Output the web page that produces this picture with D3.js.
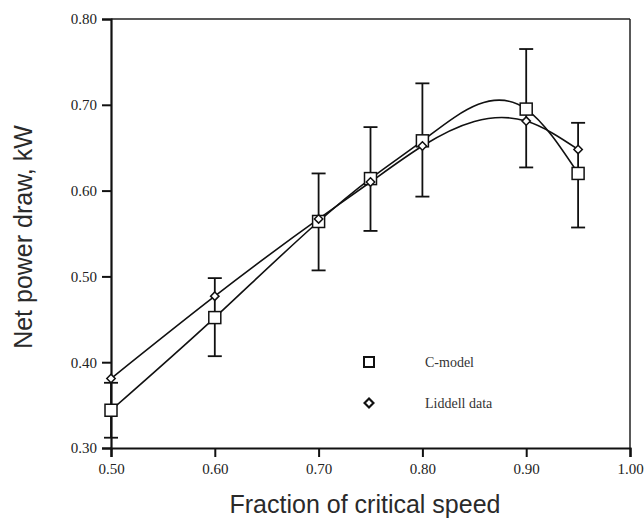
<!DOCTYPE html>
<html>
<head>
<meta charset="utf-8">
<script src="https://cdn.jsdelivr.net/npm/d3@7"></script>
<style>
  body { margin: 0; background: #fff; }
  svg { display: block; }
  .tick-label { font-family: "Liberation Serif", "DejaVu Serif", serif; font-size: 15px; fill: #222; }
  .axis-title { font-family: "Liberation Sans", Arial, sans-serif; font-size: 25px; fill: #2a2a2a; }
  .legend-text { font-family: "Liberation Serif", serif; font-size: 14px; fill: #333; }
</style>
</head>
<body>
<div id="chart"></div>
<script>
// fraction of critical speed
const speeds = [0.50, 0.60, 0.70, 0.75, 0.80, 0.90, 0.95];
// net power draw, kW
const cModel = [0.344, 0.452, 0.564, 0.614, 0.658, 0.695, 0.620];
const liddell = [0.381, 0.477, 0.567, 0.610, 0.652, 0.681, 0.648];
// error bars around the C-model points
const errLow = [0.312, 0.407, 0.507, 0.553, 0.593, 0.627, 0.557];
const errHigh = [0.376, 0.498, 0.620, 0.674, 0.725, 0.765, 0.679];

const xTicks = [0.50, 0.60, 0.70, 0.80, 0.90, 1.00];
const yTicks = [0.30, 0.40, 0.50, 0.60, 0.70, 0.80];
const seriesNames = ['C-model', 'Liddell data'];

const width = 644, height = 519;
const margin = { left: 111, right: 14, top: 19, bottom: 71 };

// natural cubic spline with x as the parameter (d3.curveNatural uses the point index)
function curveNaturalX(context) {
  let xs, ys;
  return {
    areaStart() {},
    areaEnd() {},
    lineStart() { xs = []; ys = []; },
    point(px, py) { xs.push(+px); ys.push(+py); },
    lineEnd() {
      const n = xs.length;
      if (!n) return;
      context.moveTo(xs[0], ys[0]);
      if (n < 3) {
        if (n === 2) context.lineTo(xs[1], ys[1]);
        return;
      }
      const h = [], s = [];
      for (let i = 0; i < n - 1; i++) {
        h.push(xs[i + 1] - xs[i]);
        s.push((ys[i + 1] - ys[i]) / h[i]);
      }
      // second derivatives, M[0] = M[n-1] = 0
      const M = new Array(n).fill(0);
      const cp = [], dp = [];
      for (let i = 1; i < n - 1; i++) {
        const a = h[i - 1], b = 2 * (h[i - 1] + h[i]), c = h[i];
        const d = 6 * (s[i] - s[i - 1]);
        const prevC = i > 1 ? cp[i - 1] : 0;
        const prevD = i > 1 ? dp[i - 1] : 0;
        const denom = b - a * prevC;
        cp[i] = c / denom;
        dp[i] = (d - a * prevD) / denom;
      }
      for (let i = n - 2; i >= 1; i--) {
        M[i] = dp[i] - cp[i] * M[i + 1];
      }
      const m = [];
      for (let i = 0; i < n - 1; i++) m.push(s[i] - h[i] * (2 * M[i] + M[i + 1]) / 6);
      m.push(s[n - 2] + h[n - 2] * (M[n - 2] + 2 * M[n - 1]) / 6);
      for (let i = 0; i < n - 1; i++) {
        context.bezierCurveTo(
          xs[i] + h[i] / 3, ys[i] + m[i] * h[i] / 3,
          xs[i + 1] - h[i] / 3, ys[i + 1] - m[i + 1] * h[i] / 3,
          xs[i + 1], ys[i + 1]);
      }
    }
  };
}

const svg = d3.select('#chart').append('svg')
  .attr('width', width)
  .attr('height', height);

const x = d3.scaleLinear().domain([0.5, 1.0]).range([margin.left, width - margin.right]);
const y = d3.scaleLinear().domain([0.3, 0.8]).range([height - margin.bottom, margin.top]);

// frame: top and right thinner
svg.append('line')
  .attr('x1', x(0.5)).attr('x2', x(1.0))
  .attr('y1', y(0.8)).attr('y2', y(0.8))
  .attr('stroke', '#222').attr('stroke-width', 1.5);
svg.append('line')
  .attr('x1', x(1.0)).attr('x2', x(1.0))
  .attr('y1', y(0.8)).attr('y2', y(0.3))
  .attr('stroke', '#222').attr('stroke-width', 1.5);

// axes
const xAxis = d3.axisBottom(x).tickValues(xTicks).tickFormat(d3.format('.2f')).tickSize(9).tickPadding(6);
const yAxis = d3.axisLeft(y).tickValues(yTicks).tickFormat(d3.format('.2f')).tickSize(9).tickPadding(5);

const gx = svg.append('g')
  .attr('transform', `translate(0,${y(0.3)})`)
  .call(xAxis);
const gy = svg.append('g')
  .attr('transform', `translate(${x(0.5)},0)`)
  .call(yAxis);

[gx, gy].forEach(g => {
  g.attr('font-size', null).attr('font-family', null);
  g.select('.domain').attr('stroke', '#111').attr('stroke-width', 2.2);
  g.selectAll('.tick line').attr('stroke', '#111').attr('stroke-width', 2);
  g.selectAll('.tick text').attr('class', 'tick-label');
});

// axis titles
svg.append('text')
  .attr('class', 'axis-title')
  .attr('x', 365)
  .attr('y', 513)
  .attr('text-anchor', 'middle')
  .text('Fraction of critical speed');

svg.append('text')
  .attr('class', 'axis-title')
  .attr('transform', 'translate(32,237) rotate(-90)')
  .attr('text-anchor', 'middle')
  .text('Net power draw, kW');

// smooth lines through the points
const line = d3.line()
  .x(d => x(d[0]))
  .y(d => y(d[1]))
  .curve(curveNaturalX);

const cPoints = speeds.map((s, i) => [s, cModel[i]]);
const lPoints = speeds.map((s, i) => [s, liddell[i]]);

[cPoints, lPoints].forEach(pts => {
  svg.append('path')
    .datum(pts)
    .attr('d', line)
    .attr('fill', 'none')
    .attr('stroke', '#111')
    .attr('stroke-width', 1.6);
});

// error bars
const capHalf = 7;
const errGroup = svg.append('g').attr('stroke', '#111').attr('stroke-width', 1.8);
speeds.forEach((s, i) => {
  errGroup.append('line')
    .attr('x1', x(s)).attr('x2', x(s))
    .attr('y1', y(errLow[i])).attr('y2', y(errHigh[i]));
  [errLow[i], errHigh[i]].forEach(v => {
    errGroup.append('line')
      .attr('x1', x(s) - capHalf).attr('x2', x(s) + capHalf)
      .attr('y1', y(v)).attr('y2', y(v));
  });
});

// markers
const squareSize = 12;
svg.append('g').selectAll('rect')
  .data(cPoints)
  .join('rect')
  .attr('x', d => x(d[0]) - squareSize / 2)
  .attr('y', d => y(d[1]) - squareSize / 2)
  .attr('width', squareSize)
  .attr('height', squareSize)
  .attr('fill', '#fff')
  .attr('stroke', '#111')
  .attr('stroke-width', 1.5);

const diamond = d3.symbol().type(d3.symbolDiamond2).size(45);
svg.append('g').selectAll('path')
  .data(lPoints)
  .join('path')
  .attr('d', diamond)
  .attr('transform', d => `translate(${x(d[0])},${y(d[1])})`)
  .attr('fill', '#fff')
  .attr('stroke', '#111')
  .attr('stroke-width', 1.5);

// legend
const legend = svg.append('g');
legend.append('rect')
  .attr('x', 364).attr('y', 357)
  .attr('width', 10).attr('height', 10)
  .attr('fill', '#fff').attr('stroke', '#111').attr('stroke-width', 2);
legend.append('path')
  .attr('d', d3.symbol().type(d3.symbolDiamond2).size(50))
  .attr('transform', 'translate(369,403)')
  .attr('fill', '#fff').attr('stroke', '#111').attr('stroke-width', 2.2);

legend.selectAll('text')
  .data(seriesNames)
  .join('text')
  .attr('class', 'legend-text')
  .attr('x', 425)
  .attr('y', (d, i) => 367 + i * 41)
  .text(d => d);
</script>
</body>
</html>
